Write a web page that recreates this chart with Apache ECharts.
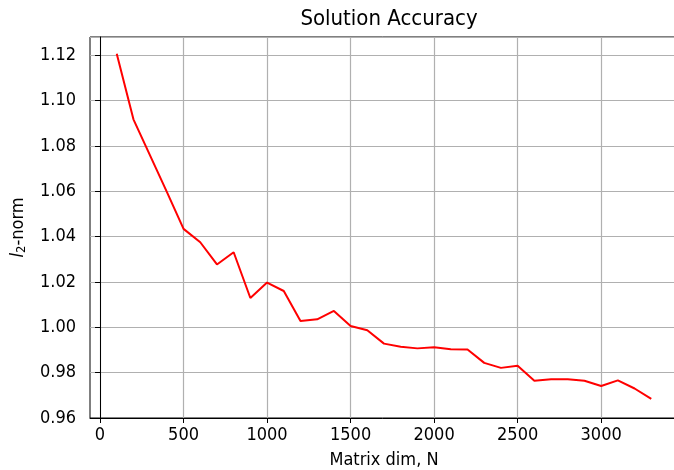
<!DOCTYPE html>
<html><head><meta charset="utf-8">
<script src="https://cdn.jsdelivr.net/npm/echarts@6/dist/echarts.min.js"></script>
<style>html,body{margin:0;padding:0;background:#fff}#c{width:674px;height:470px}</style>
</head><body><div id="c"></div>
<script>
const dims = [100,200,300,400,500,600,700,800,900,1000,1100,1200,1300,1400,1500,1600,1700,1800,1900,2000,2100,2200,2300,2400,2500,2600,2700,2800,2900,3000,3100,3200,3300];
const l2norm = [1.1206,1.0917,1.0757,1.0597,1.0434,1.0375,1.0277,1.0331,1.0129,1.0197,1.0160,1.0028,1.0035,1.0072,1.0006,0.9987,0.9928,0.9914,0.9907,0.9912,0.9903,0.9902,0.9843,0.9821,0.9830,0.9764,0.9771,0.9771,0.9764,0.9741,0.9766,0.9730,0.9684];
const xTicks = [0,500,1000,1500,2000,2500,3000];
const title = 'Solution Accuracy';
const xName = 'Matrix dim, N';

const font = '"DejaVu Sans Condensed", "DejaVu Sans"';
const chart = echarts.init(document.getElementById('c'), null, {renderer:'canvas'});
chart.setOption({
  animation:false,
  backgroundColor:'#fff',
  title:{text:title,left:384,textAlign:'center',top:3,textStyle:{fontFamily:font,fontSize:22,fontWeight:'normal',color:'#000'}},
  grid:{left:90,width:588,top:37,bottom:52,show:true,borderColor:'#000',borderWidth:1,outerBoundsMode:'none',containLabel:false},
  xAxis:{type:'value',min:-60,max:3460,
    name:xName,nameLocation:'middle',nameGap:33,nameTextStyle:{fontFamily:font,fontSize:18,color:'#000'},
    axisLine:{show:true,lineStyle:{color:'#000',width:1}},
    axisTick:{show:true,length:5,inside:false,lineStyle:{color:'#000'},customValues:xTicks},
    axisLabel:{fontFamily:font,fontSize:18,color:'#000',margin:8,customValues:xTicks,formatter:v=>String(v)},
    splitLine:{show:true,lineStyle:{color:'#b0b0b0',width:1.2}}
  },
  yAxis:{type:'value',min:0.96,max:1.128,interval:0.02,
    name:'{i|l}{s|2}-norm',nameLocation:'middle',nameGap:62,nameRotate:90,
    nameTextStyle:{fontFamily:font,fontSize:18,color:'#000',rich:{i:{fontFamily:font,fontSize:18,fontStyle:'italic',color:'#000'},s:{fontFamily:font,fontSize:13,color:'#000',verticalAlign:'bottom',padding:[7,0,0,0]}}},
    axisLine:{show:true,lineStyle:{color:'#000',width:1}},
    axisTick:{show:true,length:5,lineStyle:{color:'#000'}},
    axisLabel:{fontFamily:font,fontSize:18,color:'#000',margin:14,formatter:v=>v.toFixed(2),showMaxLabel:false},
    splitLine:{show:true,lineStyle:{color:'#b0b0b0',width:1.2}}
  },
  series:[{type:'line',data:dims.map((d,i)=>[d,l2norm[i]]),showSymbol:false,symbol:'none',
    lineStyle:{color:'#ff0000',width:2},itemStyle:{color:'#ff0000'}}]
});
</script></body></html>
